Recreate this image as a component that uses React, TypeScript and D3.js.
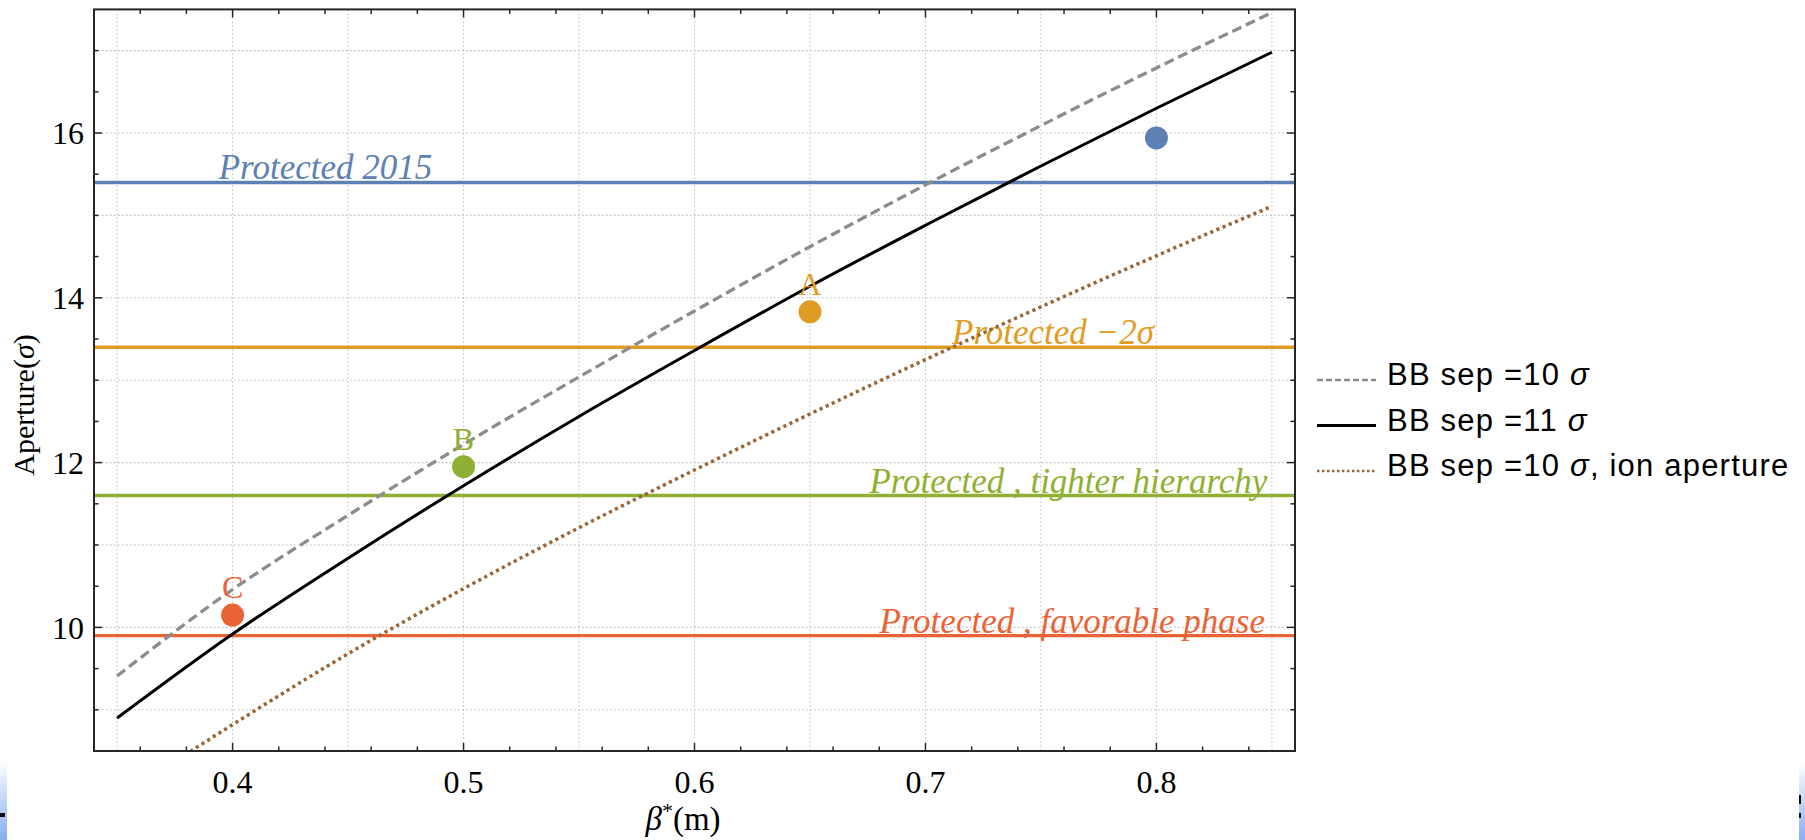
import React from 'react';
import * as d3 from 'd3';

// beta* scan (m) and aperture curves (sigma)
const betaStar = [0.35, 0.4, 0.45, 0.5, 0.55, 0.6, 0.65, 0.7, 0.75, 0.8, 0.85];
const bbSep10 = [9.41, 10.46, 11.36, 12.22, 13.04, 13.84, 14.62, 15.37, 16.09, 16.79, 17.46];
const bbSep11 = [8.9, 9.92, 10.84, 11.72, 12.56, 13.36, 14.14, 14.88, 15.6, 16.3, 16.98];
const bbSep10Ion = [7.92, 8.82, 9.68, 10.47, 11.21, 11.91, 12.59, 13.25, 13.89, 14.51, 15.11];

const protectedNames = ['Protected 2015', 'Protected \u22122\u03C3', 'Protected , tighter hierarchy', 'Protected , favorable phase'];
const protectedLevels = [15.4, 13.4, 11.6, 9.9];

const optionNames = ['', 'A', 'B', 'C'];
const optionBeta = [0.8, 0.65, 0.5, 0.4];
const optionAperture = [15.94, 13.83, 11.95, 10.15];

const legendNames = ['BB sep =10 ', 'BB sep =11 ', 'BB sep =10 '];
const legendTails = ['', '', ', ion aperture'];

const xTickValues = [0.4, 0.5, 0.6, 0.7, 0.8];
const yTickValues = [10, 12, 14, 16];

const palette = ['#5E81B5', '#E19C24', '#8FB032', '#EB6235'];

// where each protected label sits (beta*, anchor)
const labelPlacement = [
  { at: 0.394, anchor: 'start' },
  { at: 0.7115, anchor: 'start' },
  { at: 0.848, anchor: 'end' },
  { at: 0.847, anchor: 'end' },
];

const W = 1805;
const H = 840;
const left = 94, right = 1295, top = 9.4, bottom = 751;

const serif = '"Liberation Serif", "DejaVu Serif", serif';
const sans = '"Liberation Sans", Arial, sans-serif';

export default function App() {
  const x = d3.scaleLinear().domain([0.34, 0.86]).range([left, right]);
  const y = d3.scaleLinear().domain([8.5, 17.5]).range([bottom, top]);

  const line = d3
    .line<number>()
    .x((_, i) => x(betaStar[i]))
    .y((d) => y(d))
    .curve(d3.curveMonotoneX);

  const xGrid = d3.range(7, 18).map((i) => i * 0.05);
  const yGrid = d3.range(9, 18);
  const xMinor = d3.range(18, 43).map((i) => i * 0.02);
  const yMinor = d3.range(18, 35).map((i) => i * 0.5);
  const isMajorX = (v: number) => Math.abs(v * 10 - Math.round(v * 10)) < 1e-6;
  const isMajorY = (v: number) => yTickValues.includes(v);

  const curves = [
    { d: bbSep10, stroke: '#8c8c8c', width: 3.3, dash: '10,5' },
    { d: bbSep11, stroke: '#000000', width: 3, dash: null },
    { d: bbSep10Ion, stroke: '#9a6535', width: 3.5, dash: '3.2,3.5' },
  ];

  return (
    <svg width={W} height={H} style={{ position: 'absolute', left: 0, top: 0, background: '#fff' }}>
      <defs>
        <clipPath id="plotArea">
          <rect x={left} y={top} width={right - left} height={bottom - top} />
        </clipPath>
        <linearGradient id="slideEdge" x1="0" y1="0" x2="0" y2="1">
          <stop offset="0" stopColor="#ffffff" />
          <stop offset="1" stopColor="#86aef0" />
        </linearGradient>
      </defs>

      {/* slide background fragments */}
      <rect x={0} y={760} width={7} height={80} fill="url(#slideEdge)" />
      <rect x={0} y={813} width={5} height={4} fill="#111" />
      <rect x={1799} y={762} width={6} height={78} fill="url(#slideEdge)" />
      <rect x={1799} y={795} width={2} height={9} fill="#111" />
      <rect x={1799} y={813} width={2} height={5} fill="#111" />

      {/* grid */}
      <g stroke="#b4b4b4" strokeWidth={1.1} strokeDasharray="1.4,2.6">
        {xGrid.map((v) => (
          <line key={'gx' + v} x1={x(v)} x2={x(v)} y1={top} y2={bottom} />
        ))}
        {yGrid.map((v) => (
          <line key={'gy' + v} x1={left} x2={right} y1={y(v)} y2={y(v)} />
        ))}
      </g>

      {/* protected levels */}
      {protectedLevels.map((v, i) => (
        <line key={'pl' + i} x1={left} x2={right} y1={y(v)} y2={y(v)} stroke={palette[i]} strokeWidth={3.4} />
      ))}
      {protectedNames.map((t, i) => (
        <text
          key={'pt' + i}
          x={x(labelPlacement[i].at)}
          y={y(protectedLevels[i]) - 3}
          textAnchor={labelPlacement[i].anchor as any}
          fontFamily={serif}
          fontStyle="italic"
          fontSize={35}
          fill={palette[i]}
        >
          {t}
        </text>
      ))}

      {/* aperture curves */}
      <g clipPath="url(#plotArea)" fill="none">
        {curves.map((c, i) => (
          <path
            key={'c' + i}
            d={line(c.d) || ''}
            stroke={c.stroke}
            strokeWidth={c.width}
            strokeDasharray={c.dash || undefined}
          />
        ))}
      </g>

      {/* options */}
      {optionBeta.map((b, i) => (
        <g key={'o' + i}>
          <circle cx={x(b)} cy={y(optionAperture[i])} r={11.5} fill={palette[i]} />
          {optionNames[i] && (
            <text
              x={x(b)}
              y={y(optionAperture[i]) - 17}
              textAnchor="middle"
              fontFamily={serif}
              fontSize={32}
              fill={palette[i]}
            >
              {optionNames[i]}
            </text>
          )}
        </g>
      ))}

      {/* frame */}
      <rect x={left} y={top} width={right - left} height={bottom - top} fill="none" stroke="#262626" strokeWidth={2} />
      <g stroke="#262626" strokeWidth={1.5}>
        {xMinor.map((v) => {
          const len = isMajorX(v) ? 8 : 4.5;
          return (
            <g key={'tx' + v}>
              <line x1={x(v)} x2={x(v)} y1={bottom} y2={bottom - len} />
              <line x1={x(v)} x2={x(v)} y1={top} y2={top + len} />
            </g>
          );
        })}
        {yMinor.map((v) => {
          const len = isMajorY(v) ? 8 : 4.5;
          return (
            <g key={'ty' + v}>
              <line x1={left} x2={left + len} y1={y(v)} y2={y(v)} />
              <line x1={right} x2={right - len} y1={y(v)} y2={y(v)} />
            </g>
          );
        })}
      </g>

      {/* tick labels */}
      {xTickValues.map((v) => (
        <text key={'xl' + v} x={x(v)} y={793} textAnchor="middle" fontFamily={serif} fontSize={32} fill="#000">
          {d3.format('.1f')(v)}
        </text>
      ))}
      {yTickValues.map((v) => (
        <text key={'yl' + v} x={84} y={y(v)} dy="0.35em" textAnchor="end" fontFamily={serif} fontSize={32} fill="#000">
          {v}
        </text>
      ))}

      {/* axis titles */}
      <text x={683} y={830} textAnchor="middle" fontFamily={serif} fontSize={33} fill="#000">
        <tspan fontStyle="italic">{'\u03B2'}</tspan>
        <tspan fontSize={22} dy={-12}>*</tspan>
        <tspan dy={12}>(m)</tspan>
      </text>
      <text
        transform={`translate(34,${405}) rotate(-90)`}
        textAnchor="middle"
        fontFamily={serif}
        fontSize={30}
        fill="#000"
      >
        Aperture(<tspan fontStyle="italic">{'\u03C3'}</tspan>)
      </text>

      {/* legend */}
      {legendNames.map((name, i) => {
        const base = 385 + i * 45.5;
        const c = curves[i];
        return (
          <g key={'lg' + i}>
            <line
              x1={1317}
              x2={1376}
              y1={base - 5}
              y2={base - 5}
              stroke={c.stroke}
              strokeWidth={i === 1 ? 3 : 2.6}
              strokeDasharray={i === 0 ? '6,3' : i === 2 ? '2.4,2.6' : undefined}
            />
            <text x={1387} y={base} fontFamily={sans} fontSize={31} letterSpacing={1.2} fill="#000">
              {name}
              <tspan fontStyle="italic">{'\u03C3'}</tspan>
              {legendTails[i]}
            </text>
          </g>
        );
      })}
    </svg>
  );
}
